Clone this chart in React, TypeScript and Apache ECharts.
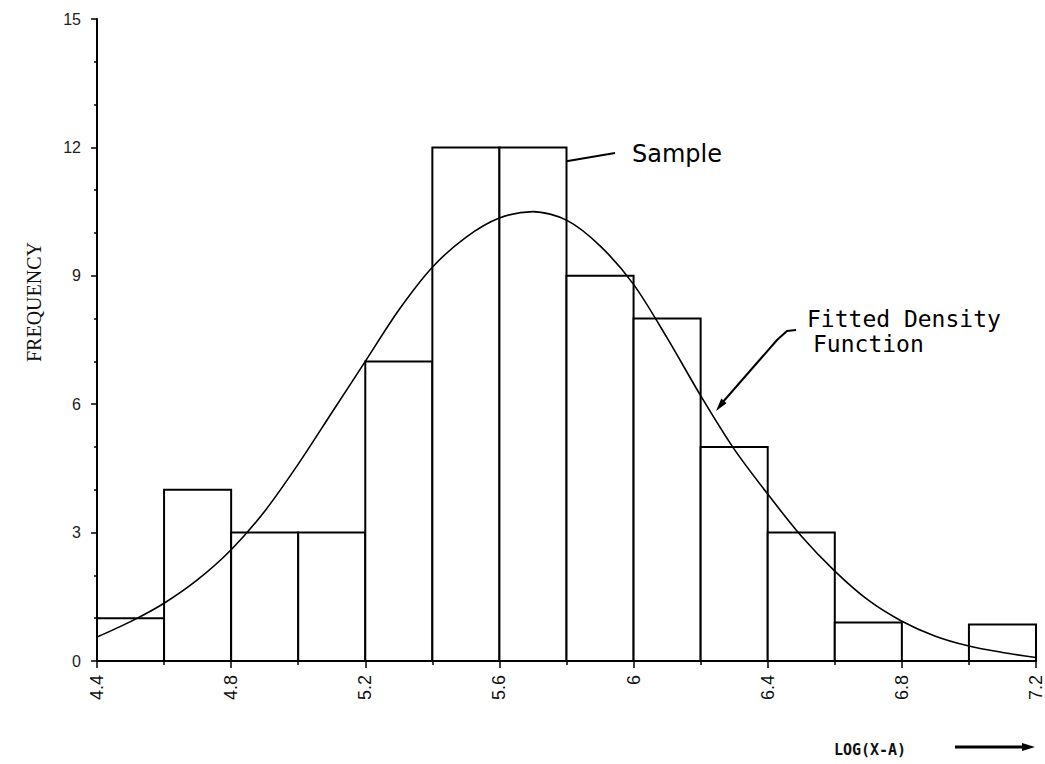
import React, { useEffect, useRef } from "react";
import * as echarts from "echarts";

// Histogram bins (lower edge, upper edge) and frequencies
const binStarts = [4.4, 4.6, 4.8, 5.0, 5.2, 5.4, 5.6, 5.8, 6.0, 6.2, 6.4, 6.6, 6.8, 7.0];
const binEnds = [4.6, 4.8, 5.0, 5.2, 5.4, 5.6, 5.8, 6.0, 6.2, 6.4, 6.6, 6.8, 7.0, 7.2];
const frequencies = [1, 4, 3, 3, 7, 12, 12, 9, 8, 5, 3, 0.9, 0, 0.85];

// Fitted density curve
const curveX = [4.4, 4.5, 4.6, 4.7, 4.8, 4.9, 5.0, 5.1, 5.2, 5.3, 5.4, 5.5, 5.6, 5.7, 5.8, 5.9, 6.0, 6.1, 6.2, 6.3, 6.4, 6.5, 6.6, 6.7, 6.8, 6.9, 7.0, 7.1, 7.2];
const curveY = [0.56, 0.92, 1.35, 1.9, 2.6, 3.5, 4.6, 5.8, 7.0, 8.2, 9.2, 9.9, 10.35, 10.5, 10.3, 9.7, 8.8, 7.55, 6.2, 4.95, 3.9, 2.92, 2.1, 1.42, 0.93, 0.58, 0.35, 0.2, 0.08];

const xMin = 4.4;
const xMax = 7.2;
const xInterval = 0.4;
const yMin = 0;
const yMax = 15;
const yInterval = 3;

export default function App() {
  const ref = useRef<HTMLDivElement>(null);

  useEffect(() => {
    if (!ref.current) return;
    const chart = echarts.init(ref.current, undefined, { renderer: "svg" });
    const barData = binStarts.map((s, i) => [s, binEnds[i], frequencies[i]]);
    const lineData = curveX.map((x, i) => [x, curveY[i]]);

    chart.setOption({
      animation: false,
      backgroundColor: "#ffffff",
      grid: { left: 97, right: 9, top: 19, bottom: 103, containLabel: false },
      xAxis: {
        type: "value",
        min: xMin,
        max: xMax,
        interval: xInterval,
        axisLine: { show: true, onZero: false, lineStyle: { color: "#000", width: 2 } },
        axisTick: { show: true, length: 7, lineStyle: { color: "#000", width: 1.5 } },
        minorTick: { show: true, splitNumber: 2, length: 4, lineStyle: { color: "#000", width: 1.5 } },
        splitLine: { show: false },
        axisLabel: {
          rotate: 90,
          margin: 14,
          fontSize: 18,
          color: "#111",
          fontFamily: "Liberation Sans",
        },
      },
      yAxis: {
        type: "value",
        min: yMin,
        max: yMax,
        interval: yInterval,
        axisLine: { show: true, lineStyle: { color: "#000", width: 2 } },
        axisTick: { show: true, length: 6, lineStyle: { color: "#000", width: 1.5 } },
        minorTick: { show: true, splitNumber: 3, length: 3, lineStyle: { color: "#000", width: 1.5 } },
        splitLine: { show: false },
        axisLabel: {
          margin: 16,
          fontSize: 16,
          color: "#222",
          fontFamily: "Liberation Sans",
        },
      },
      series: [
        {
          type: "custom",
          name: "Sample",
          data: barData,
          z: 2,
          renderItem: (params: any, api: any) => {
            const x0 = api.value(0);
            const x1 = api.value(1);
            const h = api.value(2);
            if (!h) return null;
            const p0 = api.coord([x0, h]);
            const p1 = api.coord([x1, 0]);
            return {
              type: "rect",
              shape: { x: p0[0], y: p0[1], width: p1[0] - p0[0], height: p1[1] - p0[1] },
              style: { fill: "#fff", stroke: "#000", lineWidth: 2 },
            };
          },
          encode: { x: [0, 1], y: 2 },
        },
        {
          type: "line",
          name: "Fitted Density Function",
          data: lineData,
          smooth: 0.3,
          symbol: "none",
          z: 5,
          lineStyle: { color: "#000", width: 1.6 },
        },
      ],
      graphic: [
        {
          type: "text",
          x: 34,
          y: 302,
          rotation: Math.PI / 2,
          style: {
            text: "FREQUENCY",
            fontSize: 20,
            fontFamily: "Liberation Serif",
            fill: "#111",
            align: "center",
            verticalAlign: "middle",
          },
        },
        {
          type: "text",
          x: 632,
          y: 154,
          style: {
            text: "Sample",
            fontSize: 24,
            fontFamily: "DejaVu Sans",
            fill: "#000",
            align: "left",
            verticalAlign: "middle",
          },
        },
        {
          type: "line",
          shape: { x1: 615, y1: 153, x2: 562, y2: 162 },
          style: { stroke: "#000", lineWidth: 2 },
        },
        {
          type: "polygon",
          shape: { points: [[554, 163.5], [565.6, 165.5], [564.4, 158.3]] },
          style: { fill: "#000" },
        },
        {
          type: "text",
          x: 807,
          y: 319,
          style: {
            text: "Fitted Density",
            fontSize: 23,
            fontFamily: "DejaVu Sans Mono",
            fill: "#000",
            align: "left",
            verticalAlign: "middle",
          },
        },
        {
          type: "text",
          x: 813,
          y: 344,
          style: {
            text: "Function",
            fontSize: 23,
            fontFamily: "DejaVu Sans Mono",
            fill: "#000",
            align: "left",
            verticalAlign: "middle",
          },
        },
        {
          type: "polyline",
          shape: { points: [[796, 330], [787, 331], [777, 340], [722, 403]] },
          style: { stroke: "#000", lineWidth: 2, fill: null },
        },
        {
          type: "polygon",
          shape: { points: [[716, 411], [726.5, 403.2], [721.3, 398.6]] },
          style: { fill: "#000" },
        },
        {
          type: "text",
          x: 870,
          y: 750,
          style: {
            text: "LOG(X-A)",
            fontSize: 15,
            fontWeight: "bold",
            fontFamily: "DejaVu Sans Mono",
            fill: "#111",
            align: "center",
            verticalAlign: "middle",
          },
        },
        {
          type: "line",
          shape: { x1: 955, y1: 747, x2: 1024, y2: 747 },
          style: { stroke: "#000", lineWidth: 3 },
        },
        {
          type: "polygon",
          shape: { points: [[1035, 747], [1022, 743], [1022, 751]] },
          style: { fill: "#000" },
        },
      ],
    });
    return () => chart.dispose();
  }, []);

  return (
    <div
      ref={ref}
      style={{ position: "fixed", left: 0, top: 0, width: 1045, height: 764, background: "#fff" }}
    />
  );
}
